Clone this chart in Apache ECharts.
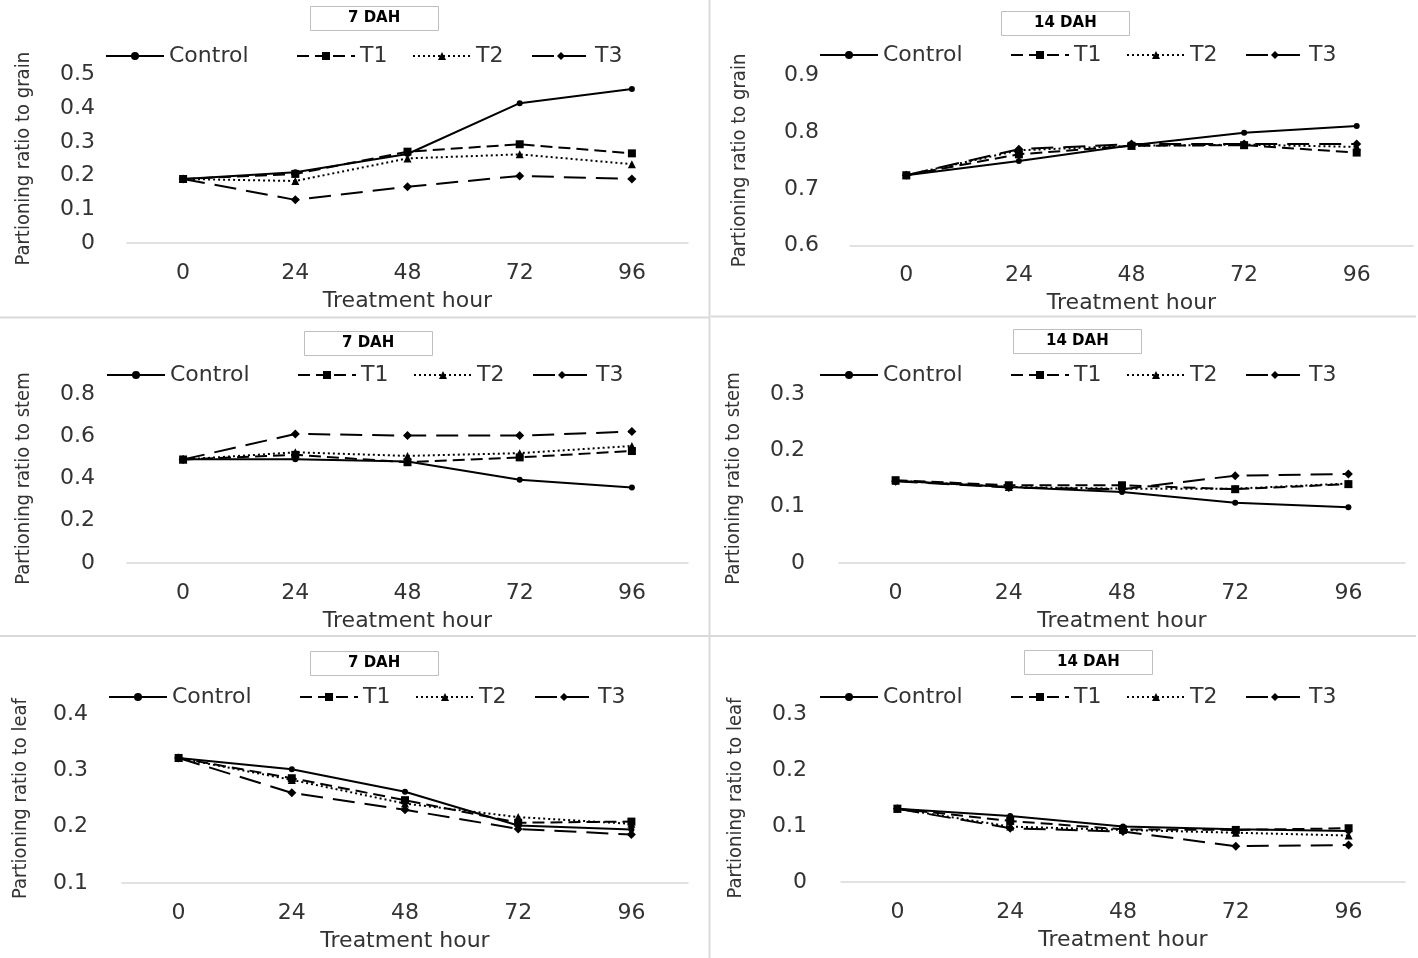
<!DOCTYPE html>
<html>
<head>
<meta charset="utf-8">
<script src="https://cdn.jsdelivr.net/npm/echarts@6/dist/echarts.min.js"></script>
<style>
html, body { margin: 0; padding: 0; background: #fff; }
#main { width: 1418px; height: 958px; }
</style>
</head>
<body>
<div id="main"></div>
<script>
const hours = ["0", "24", "48", "72", "96"];
const seriesNames = ["Control", "T1", "T2", "T3"];

// partitioning ratio to grain
const grain7Control = [0.19, 0.21, 0.264, 0.415, 0.457];
const grain7T1 = [0.19, 0.205, 0.271, 0.293, 0.266];
const grain7T2 = [0.19, 0.184, 0.251, 0.263, 0.234];
const grain7T3 = [0.19, 0.128, 0.167, 0.199, 0.19];

const grain14Control = [0.724, 0.749, 0.777, 0.799, 0.811];
const grain14T1 = [0.724, 0.761, 0.776, 0.777, 0.764];
const grain14T2 = [0.724, 0.768, 0.776, 0.778, 0.774];
const grain14T3 = [0.724, 0.77, 0.779, 0.779, 0.779];

// partitioning ratio to stem
const stem7Control = [0.491, 0.491, 0.48, 0.394, 0.357];
const stem7T1 = [0.49, 0.512, 0.477, 0.5, 0.53];
const stem7T2 = [0.49, 0.524, 0.507, 0.52, 0.554];
const stem7T3 = [0.49, 0.611, 0.603, 0.603, 0.622];

const stem14Control = [0.146, 0.135, 0.126, 0.107, 0.099];
const stem14T1 = [0.147, 0.138, 0.138, 0.131, 0.14];
const stem14T2 = [0.146, 0.135, 0.132, 0.132, 0.141];
const stem14T3 = [0.145, 0.134, 0.131, 0.155, 0.158];

// partitioning ratio to leaf
const leaf7Control = [0.322, 0.302, 0.262, 0.202, 0.195];
const leaf7T1 = [0.322, 0.286, 0.247, 0.207, 0.209];
const leaf7T2 = [0.322, 0.283, 0.241, 0.217, 0.205];
const leaf7T3 = [0.322, 0.26, 0.23, 0.196, 0.186];

const leaf14Control = [0.131, 0.118, 0.099, 0.094, 0.091];
const leaf14T1 = [0.131, 0.109, 0.094, 0.093, 0.096];
const leaf14T2 = [0.131, 0.099, 0.093, 0.088, 0.083];
const leaf14T3 = [0.131, 0.096, 0.09, 0.064, 0.066];

const panels = [
  { title: "7 DAH", yName: "Partioning ratio to grain", min: 0, max: 0.5, interval: 0.1,
    data: [grain7Control, grain7T1, grain7T2, grain7T3],
    left: 127, right: 688, top: 74.5, bottom: 243, titleLeft: 310, titleTop: 6,
    legendLeft: 105, legendY: 54, nameGap: 93, labelMargin: 32 },
  { title: "14 DAH", yName: "Partioning ratio to grain", min: 0.6, max: 0.9, interval: 0.1,
    data: [grain14Control, grain14T1, grain14T2, grain14T3],
    left: 850, right: 1413, top: 75.5, bottom: 245.5, titleLeft: 1001, titleTop: 11,
    legendLeft: 819, legendY: 53, nameGap: 100, labelMargin: 31 },
  { title: "7 DAH", yName: "Partioning ratio to stem", min: 0, max: 0.8, interval: 0.2,
    data: [stem7Control, stem7T1, stem7T2, stem7T3],
    left: 127, right: 688, top: 394, bottom: 563, titleLeft: 304, titleTop: 331,
    legendLeft: 106, legendY: 373, nameGap: 93, labelMargin: 32 },
  { title: "14 DAH", yName: "Partioning ratio to stem", min: 0, max: 0.3, interval: 0.1,
    data: [stem14Control, stem14T1, stem14T2, stem14T3],
    left: 839, right: 1405, top: 394, bottom: 563, titleLeft: 1013, titleTop: 329,
    legendLeft: 819, legendY: 373, nameGap: 95, labelMargin: 34 },
  { title: "7 DAH", yName: "Partioning ratio to leaf", min: 0.1, max: 0.4, interval: 0.1,
    data: [leaf7Control, leaf7T1, leaf7T2, leaf7T3],
    left: 122, right: 688, top: 714, bottom: 883, titleLeft: 310, titleTop: 651,
    legendLeft: 108, legendY: 695, nameGap: 91, labelMargin: 34 },
  { title: "14 DAH", yName: "Partioning ratio to leaf", min: 0, max: 0.3, interval: 0.1,
    data: [leaf14Control, leaf14T1, leaf14T2, leaf14T3],
    left: 841, right: 1405, top: 714, bottom: 882, titleLeft: 1024, titleTop: 650,
    legendLeft: 819, legendY: 695, nameGap: 95, labelMargin: 34 }
];

const lineTypes = ["solid", [12, 6], [2, 3], [22, 10]];
const symbols = ["circle", "rect", "triangle", "diamond"];
const symbolSizes = [6, 8, 8, 9];
// horizontal offset of each legend entry from the legend's left edge
const legendOffsets = [0, 191, 307, 426];

const textFont = "DejaVu Sans";
const nameFont = "Liberation Sans Narrow, DejaVu Sans Condensed, Liberation Sans, sans-serif";

const drawPanels = function() {
  let chart = echarts.init(document.getElementById("main"));
  let option = {
    animation: false,
    backgroundColor: "#fff",
    title: [],
    legend: [],
    grid: [],
    xAxis: [],
    yAxis: [],
    series: [],
    graphic: [
      { type: "line", shape: { x1: 709.5, y1: 0, x2: 709.5, y2: 958 }, style: { stroke: "#d9d9d9", lineWidth: 2 } },
      { type: "line", shape: { x1: 0, y1: 317.5, x2: 709, y2: 317.5 }, style: { stroke: "#d9d9d9", lineWidth: 2 } },
      { type: "line", shape: { x1: 711, y1: 316.5, x2: 1416, y2: 316.5 }, style: { stroke: "#d9d9d9", lineWidth: 2 } },
      { type: "line", shape: { x1: 0, y1: 636, x2: 1416, y2: 636 }, style: { stroke: "#d9d9d9", lineWidth: 2 } }
    ]
  };

  panels.forEach(function(p, i) {
    let padX = p.title.length > 5 ? 33 : 38;
    option.title.push({
      text: p.title,
      left: p.titleLeft,
      top: p.titleTop,
      padding: [5, padX, 5, padX],
      borderColor: "#bfbfbf",
      borderWidth: 1,
      textStyle: { fontFamily: textFont, fontWeight: "bold", fontSize: 15, color: "#000" }
    });
    seriesNames.forEach(function(n, k) {
      option.legend.push({
        left: p.legendLeft + legendOffsets[k],
        top: p.legendY - 9,
        padding: 0,
        itemWidth: 58,
        itemHeight: 10,
        itemStyle: { color: "#000" },
        data: [n],
        textStyle: { fontFamily: textFont, fontSize: 22, color: "#333" }
      });
    });
    option.grid.push({
      left: p.left,
      top: p.top,
      width: p.right - p.left,
      height: p.bottom - p.top,
      outerBoundsMode: "none"
    });
    option.xAxis.push({
      type: "category",
      gridIndex: i,
      data: hours,
      boundaryGap: true,
      name: "Treatment hour",
      nameLocation: "middle",
      nameGap: 47,
      nameTextStyle: { fontFamily: textFont, fontSize: 22, color: "#333" },
      axisLine: { lineStyle: { color: "#d9d9d9", width: 1.5 } },
      axisTick: { show: false },
      axisLabel: { margin: 19, fontFamily: textFont, fontSize: 22, color: "#333" },
      splitLine: { show: false }
    });
    option.yAxis.push({
      type: "value",
      gridIndex: i,
      min: p.min,
      max: p.max,
      interval: p.interval,
      name: p.yName,
      nameLocation: "middle",
      nameRotate: 90,
      nameGap: p.nameGap,
      nameTextStyle: { fontFamily: nameFont, fontSize: 20, color: "#333" },
      axisLine: { show: false },
      axisTick: { show: false },
      axisLabel: { margin: p.labelMargin, fontFamily: textFont, fontSize: 22, color: "#333" },
      splitLine: { show: false }
    });
    seriesNames.forEach(function(n, k) {
      option.series.push({
        name: n,
        type: "line",
        xAxisIndex: i,
        yAxisIndex: i,
        data: p.data[k],
        symbol: symbols[k],
        symbolSize: symbolSizes[k],
        showAllSymbol: true,
        itemStyle: { color: "#000" },
        lineStyle: { color: "#000", width: 2, type: lineTypes[k] },
        z: 10 - k
      });
    });
  });

  chart.setOption(option);
};

drawPanels();
</script>
</body>
</html>
